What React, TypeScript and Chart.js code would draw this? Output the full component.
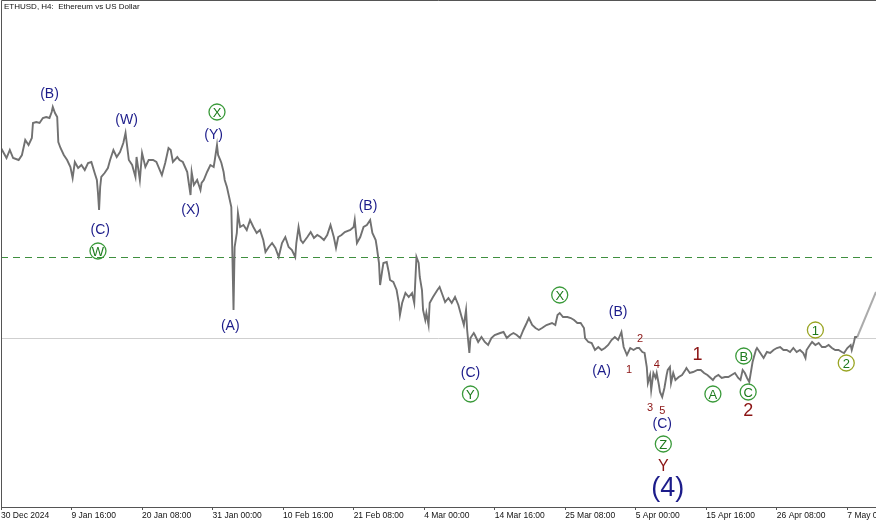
import { useEffect, useRef } from "react";
import { Chart, registerables } from "chart.js";

Chart.register(...registerables);

// --- Data: 4h bar index counted from 30 Dec 2024 00:00, price in USD ---
const barIndex = [
  0, 5, 8, 11, 16, 19, 22, 25, 28, 29,
  32, 35, 38, 41, 44, 46, 47, 49, 51, 52,
  54, 57, 60, 63, 65, 67, 70, 73, 76, 79,
  82, 85, 87, 88, 89, 90, 91, 94, 97, 99,
  102, 105, 108, 111, 113, 116, 119, 122, 123, 126,
  128, 131, 134,
  138, 141, 146, 149, 152, 154, 156, 160, 162, 165,
  167, 169, 170, 172, 173, 175, 178, 181, 182, 184,
  187, 190, 193, 194, 196, 197, 199, 200, 202, 203,
  205, 207, 209, 210, 211, 212, 214, 215, 217, 220,
  223, 226, 229, 232, 235, 238, 240, 243, 246, 249,
  252, 255, 258, 261, 264, 267, 268, 270,
  272, 274, 278, 281, 284, 287, 290, 293, 296, 299,
  302, 304, 306, 309, 312, 317, 320, 321, 323, 326,
  329, 332, 335, 337, 340, 341, 343, 344, 346, 347,
  350, 352, 353, 356, 359, 361, 362, 364, 367, 370,
  373, 375, 377, 379, 380, 382, 383, 385, 386, 388,
  389, 392, 396, 398, 400, 403, 406, 409, 412, 415,
  418, 420, 422, 423, 425, 426, 429,
  430, 433, 436, 439, 442, 445, 448, 453, 456, 459,
  462, 465, 468, 471, 474, 477, 479, 482, 485, 488,
  491, 495, 500, 503, 505, 507, 510, 514, 517, 520,
  523, 526, 529, 530, 533, 536, 539, 542, 545, 548,
  551, 554, 557, 560, 563, 565, 568, 571, 574, 577,
  579, 582, 584, 586, 587, 589, 590, 592, 594, 595,
  597, 598, 600, 602, 604, 605, 607, 608, 610, 612,
  615, 618, 621, 622, 625, 628, 632, 635, 638, 641,
  644, 646, 648, 651, 654, 657, 660, 663, 666, 669,
  671, 673, 675, 677, 679,
  682, 685, 686, 689, 692, 695, 698, 701, 704, 707,
  710, 713, 716, 719, 722, 725, 728, 730, 731, 734,
  736, 739, 742, 745, 748, 751, 754, 757, 760, 763,
  765, 768, 771, 772, 774, 775, 777,
];

const ethPrice = [
  3416, 3336, 3400, 3336, 3320, 3360, 3480, 3440, 3496, 3616,
  3624, 3616, 3656, 3664, 3656, 3704, 3744, 3696, 3664, 3464,
  3416, 3360, 3320, 3264, 3176, 3304, 3256, 3280, 3240, 3296,
  3304, 3216, 3160, 3056, 2920, 3104, 3184, 3216, 3256, 3320,
  3400, 3344, 3384, 3456, 3536, 3320, 3280, 3184, 3344, 3160,
  3376, 3264, 3320,
  3320, 3304, 3200, 3296, 3416, 3400, 3304, 3344, 3320, 3304,
  3264, 3224, 3160, 3040, 3224, 3120, 3160, 3080, 3136, 3160,
  3224, 3280, 3264, 3320, 3440, 3360, 3320, 3296, 3224, 3160,
  3104, 3024, 2944, 2544, 2120, 2624, 2736, 2896, 2784, 2800,
  2760, 2840, 2784, 2736, 2760, 2680, 2584, 2624, 2656, 2616,
  2544, 2656, 2704, 2624, 2600, 2544, 2656, 2784,
  2680, 2656, 2704, 2744, 2696, 2720, 2704, 2680, 2720, 2800,
  2704, 2616, 2704, 2720, 2744, 2760, 2784, 2840, 2656, 2704,
  2784, 2800, 2840, 2736, 2680, 2624, 2496, 2320, 2440, 2496,
  2504, 2416, 2360, 2344, 2280, 2176, 2080, 2176, 2256, 2224,
  2256, 2176, 2544, 2496, 2384, 2280, 2120, 2040, 2096, 2000,
  2176, 2224, 2280, 2304, 2256, 2184, 2216, 2176, 2224, 2160,
  2064, 2000, 2120, 1960, 1776, 1896, 1936,
  1920, 1864, 1904, 1864, 1840, 1896, 1920, 1936, 1944, 1896,
  1920, 1936, 1920, 1896, 1960, 2016, 2056, 2000, 1976, 1960,
  1976, 2000, 2016, 2000, 2080, 2096, 2064, 2064, 2056, 2040,
  2016, 2016, 1976, 1896, 1864, 1856, 1800, 1824, 1800, 1816,
  1840, 1880, 1904, 1880, 1944, 1824, 1760, 1816, 1800, 1816,
  1816, 1784, 1776, 1664, 1536, 1600, 1480, 1616, 1576, 1616,
  1520, 1464, 1424, 1496, 1600, 1640, 1664, 1536, 1616, 1560,
  1584, 1600, 1640, 1656, 1616, 1624, 1640, 1640, 1616, 1600,
  1576, 1560, 1584, 1600, 1576, 1584, 1584, 1600, 1616, 1576,
  1560, 1640, 1616, 1576, 1544,
  1704, 1800, 1816, 1776, 1736, 1784, 1776, 1800, 1816, 1824,
  1800, 1800, 1784, 1816, 1784, 1800, 1776, 1736, 1800, 1840,
  1864, 1840, 1856, 1824, 1824, 1840, 1816, 1800, 1800, 1784,
  1776, 1816, 1840, 1800, 1864, 1904, 1904,
];

// projected leg drawn from the last bar
const projectionBars = [777, 794];
const projectionPrice = [1904, 2264];

const tickBars = [0, 64, 128, 192, 256, 320, 384, 448, 512, 576, 640, 704, 768];
const tickLabels = [
  "30 Dec 2024", "9 Jan 16:00", "20 Jan 08:00", "31 Jan 00:00", "10 Feb 16:00",
  "21 Feb 08:00", "4 Mar 00:00", "14 Mar 16:00", "25 Mar 08:00", "5 Apr 00:00",
  "15 Apr 16:00", "26 Apr 08:00", "7 May 00:00",
];

const dashedLevel = 2544;
const solidLevel = 1896;

type Kind = "navy" | "navyBig" | "redSmall" | "red" | "redBig" | "ring" | "ringOlive";
type WaveLabel = { text: string; bar: number; price: number; kind: Kind };

const waveLabels: WaveLabel[] = [
  { text: "(B)", bar: 44, price: 3856, kind: "navy" },
  { text: "(W)", bar: 114, price: 3648, kind: "navy" },
  { text: "X", bar: 196, price: 3704, kind: "ring" },
  { text: "(Y)", bar: 193, price: 3528, kind: "navy" },
  { text: "(X)", bar: 172, price: 2928, kind: "navy" },
  { text: "(C)", bar: 90, price: 2768, kind: "navy" },
  { text: "W", bar: 88, price: 2592, kind: "ring" },
  { text: "(A)", bar: 208, price: 2000, kind: "navy" },
  { text: "(B)", bar: 333, price: 2960, kind: "navy" },
  { text: "(C)", bar: 426, price: 1624, kind: "navy" },
  { text: "Y", bar: 426, price: 1448, kind: "ring" },
  { text: "X", bar: 507, price: 2240, kind: "ring" },
  { text: "(B)", bar: 560, price: 2112, kind: "navy" },
  { text: "(A)", bar: 545, price: 1640, kind: "navy" },
  { text: "2", bar: 580, price: 1896, kind: "redSmall" },
  { text: "1", bar: 570, price: 1648, kind: "redSmall" },
  { text: "4", bar: 595, price: 1688, kind: "redSmall" },
  { text: "3", bar: 589, price: 1344, kind: "redSmall" },
  { text: "5", bar: 600, price: 1320, kind: "redSmall" },
  { text: "(C)", bar: 600, price: 1216, kind: "navy" },
  { text: "Z", bar: 601, price: 1048, kind: "ring" },
  { text: "Y", bar: 601, price: 872, kind: "red" },
  { text: "(4)", bar: 605, price: 696, kind: "navyBig" },
  { text: "1", bar: 632, price: 1768, kind: "redBig" },
  { text: "A", bar: 646, price: 1448, kind: "ring" },
  { text: "B", bar: 674, price: 1752, kind: "ring" },
  { text: "C", bar: 678, price: 1464, kind: "ring" },
  { text: "2", bar: 678, price: 1320, kind: "redBig" },
  { text: "1", bar: 739, price: 1960, kind: "ringOlive" },
  { text: "2", bar: 767, price: 1696, kind: "ringOlive" },
];

const FONT = "'Liberation Sans', Arial, sans-serif";

const kindStyle: Record<Kind, { size: number; color: string; ring?: string }> = {
  navy: { size: 14, color: "#1c1c8a" },
  navyBig: { size: 27, color: "#1c1c8a" },
  redSmall: { size: 11, color: "#8b1414" },
  red: { size: 16, color: "#8b1414" },
  redBig: { size: 18, color: "#8b1414" },
  ring: { size: 13, color: "#1d7a1d", ring: "#3a9a3a" },
  ringOlive: { size: 13, color: "#1d7a1d", ring: "#9aa524" },
};

const overlay = {
  id: "waveOverlay",
  beforeDatasetsDraw(chart: Chart) {
    const { ctx, chartArea: a } = chart;
    const y = chart.scales.y;
    ctx.save();
    const ys = Math.round(y.getPixelForValue(solidLevel)) + 0.5;
    ctx.strokeStyle = "#cfcfcf";
    ctx.lineWidth = 1;
    ctx.beginPath();
    ctx.moveTo(a.left, ys);
    ctx.lineTo(a.right, ys);
    ctx.stroke();
    const yd = Math.round(y.getPixelForValue(dashedLevel)) + 0.5;
    ctx.strokeStyle = "#3f8f3f";
    ctx.setLineDash([7, 5]);
    ctx.beginPath();
    ctx.moveTo(a.left, yd);
    ctx.lineTo(a.right, yd);
    ctx.stroke();
    ctx.restore();
  },
  afterDatasetsDraw(chart: Chart) {
    const { ctx, chartArea: a } = chart;
    const x = chart.scales.x;
    const y = chart.scales.y;
    ctx.save();
    // frame
    ctx.strokeStyle = "#555";
    ctx.lineWidth = 1;
    ctx.beginPath();
    ctx.moveTo(a.left + 0.5, a.bottom);
    ctx.lineTo(a.left + 0.5, 0.5);
    ctx.lineTo(a.right, 0.5);
    ctx.stroke();

    // title
    ctx.fillStyle = "#111";
    ctx.font = `8px ${FONT}`;
    ctx.textAlign = "left";
    ctx.textBaseline = "middle";
    ctx.fillText("ETHUSD, H4:  Ethereum vs US Dollar", 4, 7);

    // wave labels
    ctx.textAlign = "center";
    for (const w of waveLabels) {
      const st = kindStyle[w.kind];
      const px = x.getPixelForValue(w.bar);
      const py = y.getPixelForValue(w.price);
      if (st.ring) {
        ctx.strokeStyle = st.ring;
        ctx.lineWidth = 1.3;
        ctx.beginPath();
        ctx.arc(px, py, 8, 0, Math.PI * 2);
        ctx.stroke();
      }
      ctx.fillStyle = st.color;
      ctx.font = `${st.size}px ${FONT}`;
      ctx.fillText(w.text, px, py + 1);
    }
    ctx.restore();
  },
};

export default function App() {
  const canvasRef = useRef<HTMLCanvasElement | null>(null);
  const chartRef = useRef<Chart | null>(null);

  useEffect(() => {
    if (!canvasRef.current) return;
    chartRef.current?.destroy();
    const n = Math.min(barIndex.length, ethPrice.length);
    chartRef.current = new Chart(canvasRef.current, {
      type: "line",
      data: {
        datasets: [
          {
            label: "ETHUSD",
            data: barIndex.slice(0, n).map((b, i) => ({ x: b, y: ethPrice[i] })),
            borderColor: "#717171",
            borderWidth: 1.9,
            pointRadius: 0,
            tension: 0,
          },
          {
            label: "projection",
            data: projectionBars.map((b, i) => ({ x: b, y: projectionPrice[i] })),
            borderColor: "#ababab",
            borderWidth: 2,
            pointRadius: 0,
            tension: 0,
          },
        ],
      },
      options: {
        animation: false,
        responsive: true,
        maintainAspectRatio: false,
        events: [],
        layout: { padding: { left: 1, top: 0, right: 0, bottom: 0 } },
        plugins: { legend: { display: false }, tooltip: { enabled: false } },
        scales: {
          x: {
            type: "linear",
            min: 0,
            max: 794,
            afterBuildTicks: (s: any) => {
              s.ticks = tickBars.map((v) => ({ value: v }));
            },
            afterFit: (s: any) => {
              s.paddingLeft = 0;
              s.paddingRight = 0;
              s.height = 14;
            },
            ticks: {
              align: "start",
              maxRotation: 0,
              autoSkip: false,
              padding: 1,
              color: "#111",
              font: { family: FONT, size: 8.5 },
              callback: (_v: any, i: number) => tickLabels[i] ?? "",
            },
            grid: { drawOnChartArea: false, drawTicks: true, tickLength: 3, color: "#555" },
            border: { display: true, color: "#555" },
          },
          y: { display: false, min: 544, max: 4600 },
        },
      },
      plugins: [overlay as any],
    });
    return () => {
      chartRef.current?.destroy();
      chartRef.current = null;
    };
  }, []);

  return (
    <div style={{ position: "fixed", left: 0, top: 0, width: 876, height: 521, background: "#fff" }}>
      <canvas ref={canvasRef} />
    </div>
  );
}
